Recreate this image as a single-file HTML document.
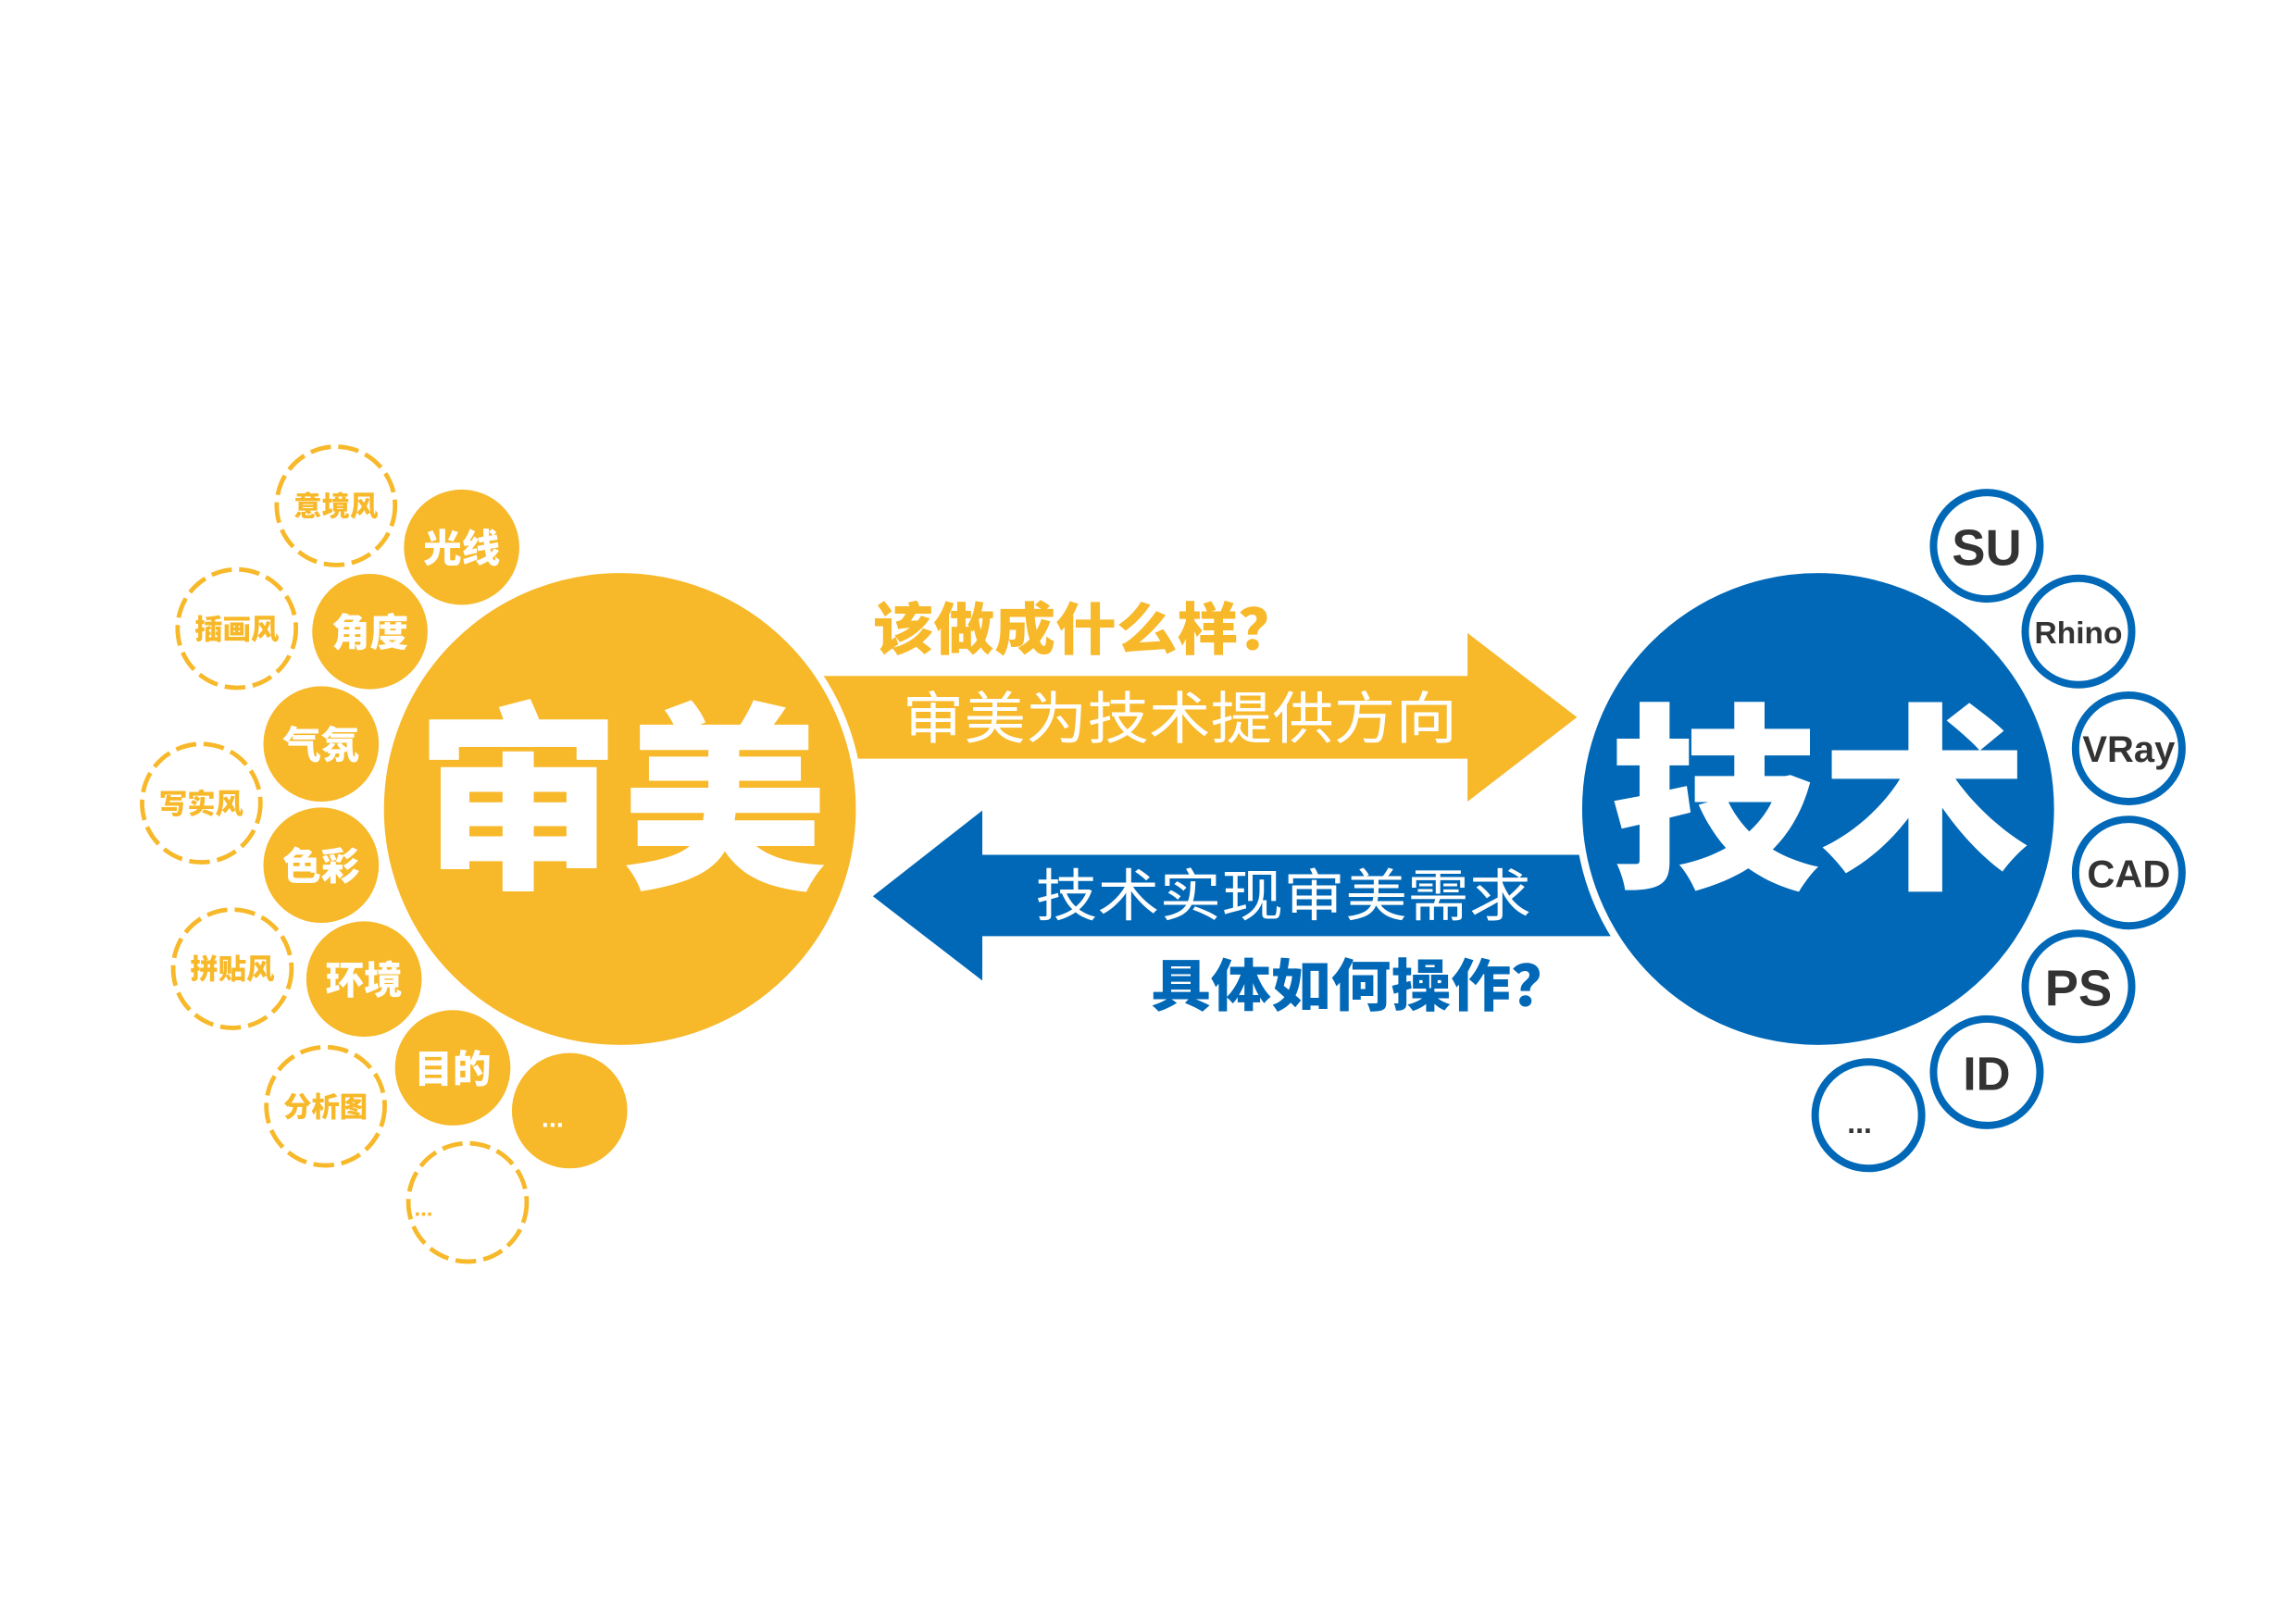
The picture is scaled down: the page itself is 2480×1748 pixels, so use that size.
<!DOCTYPE html>
<html><head><meta charset="utf-8"><style>
html,body{margin:0;padding:0;background:#fff;width:2480px;height:1748px;overflow:hidden}
svg{display:block}
.cjk{font-family:"Liberation Sans","Noto Sans CJK SC",sans-serif}
</style></head><body>
<svg width="2480" height="1748" viewBox="0 0 1552 1094" xmlns="http://www.w3.org/2000/svg">
<rect width="1552" height="1094" fill="#fff"/>

<!-- yellow arrow -->
<polygon fill="#F7B829" points="540,457 992,457 992,428 1066,485 992,542 992,513 540,513"/>
<!-- blue arrow -->
<polygon fill="#0068B7" points="1110,578 664,578 664,548 590,606 664,663 664,633 1110,633"/>

<!-- big circles -->
<circle cx="419" cy="547" r="162" fill="#F7B829" stroke="#fff" stroke-width="5"/>
<circle cx="1229" cy="547" r="162" fill="#0068B7" stroke="#fff" stroke-width="5"/>
<text class="cjk" x="420" y="590" font-size="135" font-weight="900" fill="#fff" text-anchor="middle" textLength="278" lengthAdjust="spacingAndGlyphs">审美</text>
<text class="cjk" x="1230" y="590" font-size="135" font-weight="900" fill="#fff" text-anchor="middle" textLength="284" lengthAdjust="spacingAndGlyphs">技术</text>

<text class="cjk" x="590" y="439" font-size="38" font-weight="900" fill="#F7B829" textLength="288" lengthAdjust="spacingAndGlyphs">该做成什么样？</text>
<text class="cjk" x="610" y="499" font-size="38" fill="#fff" textLength="375" lengthAdjust="spacingAndGlyphs">审美为技术提供方向</text>
<text class="cjk" x="700" y="619" font-size="38" fill="#fff" textLength="335" lengthAdjust="spacingAndGlyphs">技术实现审美需求</text>
<text class="cjk" x="778" y="680" font-size="38" font-weight="900" fill="#0068B7" textLength="284" lengthAdjust="spacingAndGlyphs">具体如何操作？</text>

<!-- yellow filled circles -->
<g class="cjk" font-weight="900" fill="#fff" font-size="26" text-anchor="middle">
<circle cx="312" cy="370" r="39" fill="#F7B829"/><text x="312" y="380">光线</text>
<circle cx="250" cy="427" r="39" fill="#F7B829"/><text x="250" y="437">角度</text>
<circle cx="217" cy="503" r="39" fill="#F7B829"/><text x="217" y="513">气氛</text>
<circle cx="217" cy="585" r="39" fill="#F7B829"/><text x="217" y="595">色彩</text>
<circle cx="246" cy="662" r="39" fill="#F7B829"/><text x="246" y="672">环境</text>
<circle cx="306" cy="722" r="39" fill="#F7B829"/><text x="306" y="732">目的</text>
<circle cx="385" cy="751" r="39" fill="#F7B829"/><text x="366" y="762" font-size="18" text-anchor="start">...</text>
</g>

<!-- dashed circles -->
<g class="cjk" font-weight="900" fill="#F7B829" font-size="19" text-anchor="middle">
<circle cx="227" cy="342" r="40" fill="none" stroke="#F7B829" stroke-width="3" stroke-dasharray="14 5"/><text x="227" y="349">意境风</text>
<circle cx="160" cy="425" r="40" fill="none" stroke="#F7B829" stroke-width="3" stroke-dasharray="14 5"/><text x="160" y="432">插画风</text>
<circle cx="136" cy="543" r="40" fill="none" stroke="#F7B829" stroke-width="3" stroke-dasharray="14 5"/><text x="136" y="550">写实风</text>
<circle cx="157" cy="655" r="40" fill="none" stroke="#F7B829" stroke-width="3" stroke-dasharray="14 5"/><text x="157" y="662">拼贴风</text>
<circle cx="220" cy="748" r="40" fill="none" stroke="#F7B829" stroke-width="3" stroke-dasharray="14 5"/><text x="220" y="755">分析图</text>
<circle cx="316" cy="813" r="40" fill="none" stroke="#F7B829" stroke-width="3" stroke-dasharray="14 5"/><text x="280" y="822" font-size="15" text-anchor="start">...</text>
</g>

<!-- blue rings -->
<g font-family="'Liberation Sans',sans-serif" font-weight="bold" fill="#333" text-anchor="middle">
<circle cx="1343" cy="369" r="36" fill="#fff" stroke="#0068B7" stroke-width="5"/><text x="1343" y="382" font-size="34">SU</text>
<circle cx="1405" cy="427" r="36" fill="#fff" stroke="#0068B7" stroke-width="5"/><text x="1405" y="435" font-size="21">Rhino</text>
<circle cx="1439" cy="506" r="36" fill="#fff" stroke="#0068B7" stroke-width="5"/><text x="1439" y="515" font-size="25">VRay</text>
<circle cx="1439" cy="590" r="36" fill="#fff" stroke="#0068B7" stroke-width="5"/><text x="1439" y="600" font-size="26">CAD</text>
<circle cx="1405" cy="667" r="36" fill="#fff" stroke="#0068B7" stroke-width="5"/><text x="1405" y="680" font-size="34">PS</text>
<circle cx="1343" cy="725" r="36" fill="#fff" stroke="#0068B7" stroke-width="5"/><text x="1343" y="737" font-size="32">ID</text>
<circle cx="1263" cy="754" r="36" fill="#fff" stroke="#0068B7" stroke-width="5"/><text x="1257" y="766" font-size="20">...</text>
</g>
</svg>
</body></html>
